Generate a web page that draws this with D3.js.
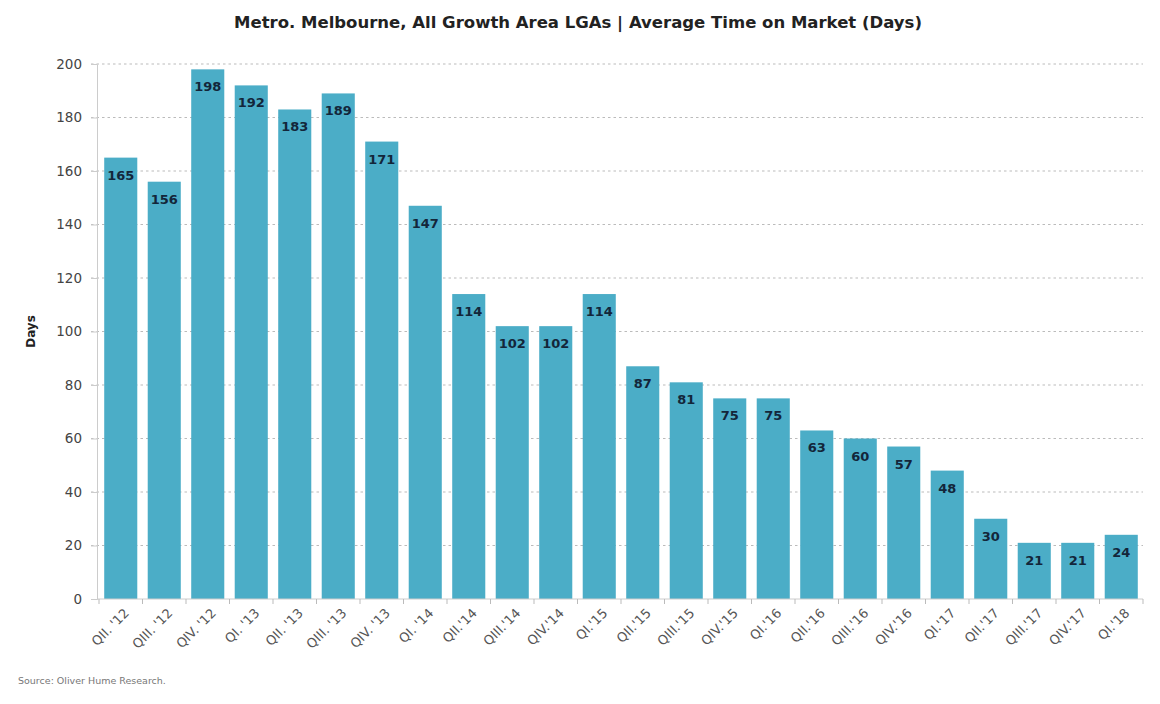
<!DOCTYPE html>
<html><head><meta charset="utf-8">
<script src="https://cdn.jsdelivr.net/npm/d3@7"></script>
<style>body{margin:0;background:#fff;font-family:"DejaVu Sans",Verdana,sans-serif;}</style>
</head><body><svg id="c" width="1160" height="704"></svg>
<script>
const categories = ["QII. '12","QIII. '12","QIV. '12","QI. '13","QII. '13","QIII. '13","QIV. '13","QI. '14","QII.'14","QIII.'14","QIV.'14","QI.'15","QII.'15","QIII.'15","QIV.'15","QI.'16","QII.'16","QIII.'16","QIV.'16","QI.'17","QII.'17","QIII.'17","QIV.'17","QI.'18"];
const values = [165,156,198,192,183,189,171,147,114,102,102,114,87,81,75,75,63,60,57,48,30,21,21,24];
const yTicks = [0,20,40,60,80,100,120,140,160,180,200];
const title = "Metro. Melbourne, All Growth Area LGAs | Average Time on Market (Days)";
const yTitle = "Days";
const source = "Source: Oliver Hume Research.";

const svg = d3.select("#c");
const m = {l:99, r:1143, t:64, b:599};
const x = d3.scaleBand().domain(categories).range([m.l, m.r]).paddingInner(0.24).paddingOuter(0.12);
const y = d3.scaleLinear().domain([0,200]).range([m.b, m.t]);

svg.append("text").attr("x",578).attr("y",28).attr("text-anchor","middle")
  .attr("font-size",16.5).attr("font-weight","bold").attr("fill","#222").text(title);

// grid
svg.append("g").selectAll("line").data(yTicks.filter(d=>d>0)).join("line")
  .attr("x1",m.l-8).attr("x2",m.r).attr("y1",d=>y(d)).attr("y2",d=>y(d))
  .attr("stroke","#bbb").attr("stroke-width",1.2).attr("stroke-dasharray","2.5,3");

// y axis
const ya = svg.append("g").attr("transform",`translate(${m.l-2},0)`)
  .call(d3.axisLeft(y).tickValues(yTicks).tickSize(6).tickPadding(9));
ya.select(".domain").attr("stroke","#ccc");
ya.selectAll(".tick line").attr("stroke","#ccc");
ya.selectAll("text").attr("font-size",13.5).attr("fill","#444").attr("font-family","DejaVu Sans, Verdana, sans-serif");

svg.append("text").attr("transform",`translate(35,${(m.t+m.b)/2}) rotate(-90)`)
  .attr("text-anchor","middle").attr("font-size",12).attr("font-weight","bold").attr("fill","#222").text(yTitle);

// bars
svg.append("g").selectAll("rect").data(values).join("rect")
  .attr("x",(d,i)=>x(categories[i])).attr("width",x.bandwidth())
  .attr("y",d=>y(d)).attr("height",d=>y(0)-y(d)).attr("fill","#4badc7");

svg.append("g").selectAll("text").data(values).join("text")
  .attr("x",(d,i)=>x(categories[i])+x.bandwidth()/2).attr("y",d=>y(d)+22)
  .attr("text-anchor","middle").attr("font-size",13).attr("font-weight","bold")
  .attr("fill","#13263a").text(d=>d);

// x axis
const xa = svg.append("g").attr("transform",`translate(0,${m.b})`);
xa.append("line").attr("x1",m.l-2).attr("x2",m.r).attr("stroke","#ccc");
const bounds = d3.range(categories.length+1).map(i=>m.l + i*(m.r-m.l)/categories.length);
xa.selectAll(".tk").data(bounds).join("line").attr("class","tk")
  .attr("x1",d=>d).attr("x2",d=>d).attr("y1",0).attr("y2",5).attr("stroke","#bbb");
xa.selectAll(".lb").data(categories).join("text").attr("class","lb")
  .attr("transform",d=>`translate(${x(d)+x.bandwidth()/2+9},${15}) rotate(-45)`)
  .attr("text-anchor","end").attr("font-size",13).attr("fill","#555").text(d=>d);

svg.append("text").attr("x",18).attr("y",684).attr("font-size",9.5).attr("fill","#777").text(source);
</script></body></html>
